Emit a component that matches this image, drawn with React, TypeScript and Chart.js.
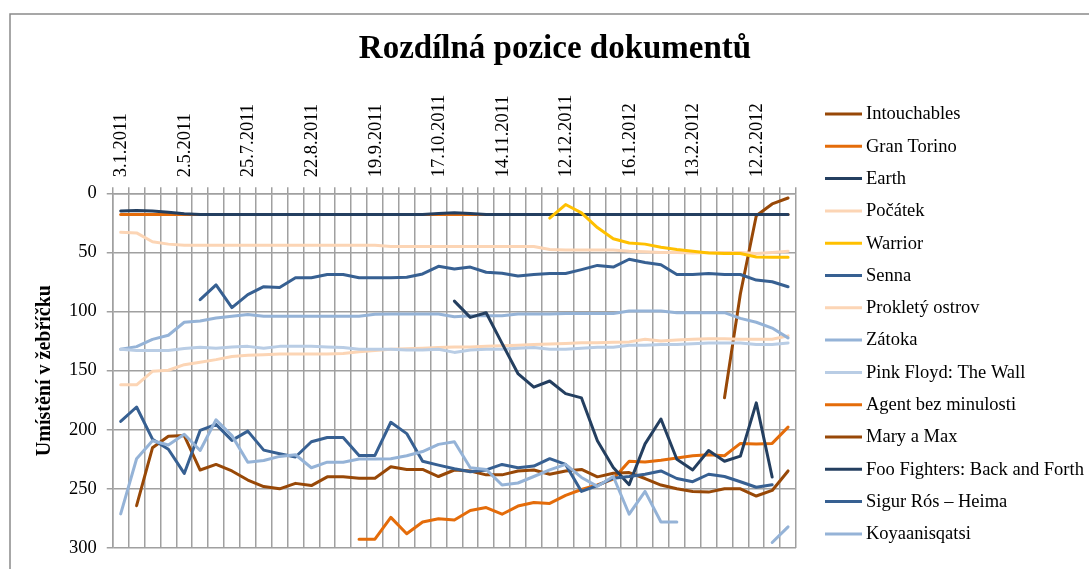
import React, { useEffect, useRef } from 'react';
import { Chart, registerables } from 'chart.js';

Chart.register(...registerables);

const N = null;

const categories: string[] = [
  'w1', 'w2', 'w3', 'w4', 'w5', 'w6', 'w7', 'w8', 'w9', 'w10',
  'w11', 'w12', 'w13', 'w14', 'w15', 'w16', 'w17', 'w18', 'w19', 'w20',
  'w21', 'w22', 'w23', 'w24', 'w25', 'w26', 'w27', 'w28', 'w29', 'w30',
  'w31', 'w32', 'w33', 'w34', 'w35', 'w36', 'w37', 'w38', 'w39', 'w40',
  'w41', 'w42', 'w43',
];

const tickLabels: string[] = [
  '3.1.2011', '2.5.2011', '25.7.2011', '22.8.2011', '19.9.2011', '17.10.2011',
  '14.11.2011', '12.12.2011', '16.1.2012', '13.2.2012', '12.2.2012',
];

const yTicks = [0, 50, 100, 150, 200, 250, 300];

const intouchables = [
  N, N, N, N, N, N, N, N, N, N, N, N, N, N, N, N, N, N, N, N,
  N, N, N, N, N, N, N, N, N, N, N, N, N, N, N, N, N, N, 173, 85,
  19, 9, 4,
];
const granTorino = [
  18, 18, 18, 18, 18, 18, 18, 18, 18, 18, 18, 18, 18, 18, 18, 18, 18, 18, 18, 18,
  18, 18, 18, 18, 18, 18, 18, 18, 18, 18, 18, 18, 18, 18, 18, 18, 18, 18, 18, 18,
  18, 18, 18,
];
const earth = [
  15, 14.5, 15, 16, 17.3, 18, 18, 18, 18, 18, 18, 18, 18, 18, 18, 18, 18, 18, 18, 18,
  17, 16.5, 17, 18, 18, 18, 18, 18, 18, 18, 18, 18, 18, 18, 18, 18, 18, 18, 18, 18,
  18, 18, 18,
];
const pocatek = [
  33, 33.5, 41, 43, 44, 44, 44, 44, 44, 44, 44, 44, 44, 44, 44, 44, 44, 45, 45, 45,
  45, 45, 45, 45, 45, 45, 45, 47.5, 48, 48, 48, 48, 49, 49.5, 50, 50, 50.5, 50, 50, 50,
  51, 50, 49,
];
const warrior = [
  N, N, N, N, N, N, N, N, N, N, N, N, N, N, N, N, N, N, N, N,
  N, N, N, N, N, N, N, 21, 9.5, 16.5, 29, 38.5, 42, 43, 45.6, 47.6, 49, 50.5, 51, 51,
  53.9, 54, 54,
];
const senna = [
  N, N, N, N, N, 90, 77.5, 96.7, 85.7, 79, 79.7, 71.5, 71.5, 68.7, 68.7, 71.5, 71.5, 71.5, 71, 68.2,
  61.8, 64, 62.4, 66.8, 67.6, 70, 68.7, 67.9, 67.9, 64.6, 61, 62.4, 55.8, 58.5, 60.5, 68.7, 68.7, 67.9, 68.7, 68.7,
  73.4, 74.8, 79.1,
];
const prokletyOstrov = [
  162, 162, 150.6, 149.7, 145, 142.9, 140.7, 138, 137, 136.5, 136, 136, 136, 136, 135.5, 134, 133, 132, 131.5, 131,
  130.5, 130, 130, 129.5, 129, 128.5, 128, 127.5, 127, 126.5, 126.5, 126, 125.7, 123.5, 125, 124.2, 123.4, 123, 123, 123.4,
  123.4, 123.4, 120.6,
];
const zatoka = [
  132, 129.7, 123.6, 120.1, 109.1, 108, 105.5, 104, 102.5, 104, 104, 104, 104, 104, 104, 104, 102.4, 102.2, 102.2, 102.2,
  102.2, 104.4, 103.6, 103.6, 103.6, 102.2, 102.2, 102.2, 101.7, 101.7, 101.7, 101.7, 99.5, 99.5, 99.5, 101, 101, 101, 101, 105.8,
  109.1, 114, 122.3,
];
const pinkFloyd = [
  132, 133, 133, 133, 131.3, 130.3, 131, 130, 129.5, 131, 129.5, 129.5, 129.5, 130, 130.5, 132, 132, 132, 132.6, 132.6,
  132, 134.6, 132.6, 132, 132, 131, 130.5, 132, 132, 131, 130.3, 130.3, 128.6, 128.6, 128, 128, 127.3, 126.6, 126.6, 126.6,
  128, 128, 126.6,
];
const agentBezMinulosti = [
  N, N, N, N, N, N, N, N, N, N, N, N, N, N, N, 292.6, 292.6, 274.2, 288, 278.1,
  275.3, 276.4, 268.4, 265.9, 271.5, 264.6, 261.6, 262.4, 255.5, 250.6, 246.8, 241.8, 226.7, 227.3, 225.9, 224, 222, 221.2, 222, 211.6,
  212.1, 211.6, 197.8,
];
const maryAMax = [
  N, 264.3, 215.3, 205.5, 205, 234.1, 229.4, 234.9, 242.6, 248.1, 250, 245.4, 247.3, 239.9, 239.9, 241, 241, 231.4, 233.6, 233.6,
  239.6, 234.1, 234.9, 238.2, 238.2, 234.9, 234.1, 237.7, 234.9, 233.6, 239.9, 236.9, 236.3, 241.3, 246.8, 250, 252.2, 252.8, 250, 250,
  256.1, 251.4, 234.9,
];
const fooFighters = [
  N, N, N, N, N, N, N, N, N, N, N, N, N, N, N, N, N, N, N, N,
  N, 91.2, 105, 101.1, 127, 152.5, 164, 158.8, 169.5, 173.1, 209.4, 232, 246.5, 212, 191, 225, 234, 217.6, 226.7, 222.4,
  177.3, 240, N,
];
const sigurRos = [
  193, 180.8, 208, 216.5, 237, 200.6, 195.5, 209, 201.2, 217.3, 220.3, 223.1, 210.2, 206.6, 206.6, 221.8, 221.8, 193.7, 203.3, 226.7,
  230, 233, 235.5, 234, 229.4, 232.2, 230.8, 224.5, 229.4, 252.2, 247.3, 241, 239.6, 237.7, 234.9, 241.3, 244, 237.7, 239.6, 244,
  248.7, 246.6, N,
];
const koyaanisqatsi = [
  271.2, 224.6, 209.4, 213, 203.9, 217.6, 191.6, 205, 227.5, 226.1, 222.6, 221.2, 232.2, 227.5, 227.5, 224.8, 224.8, 224.6, 222, 218.5,
  212.4, 210.2, 232.2, 233.6, 246.8, 245.1, 239.6, 234, 229.4, 240.4, 247.9, 239.6, 271.5, 252.2, 278.1, 278.1, N, N, N, N,
  N, 295.4, 282.2,
];

const seriesNames = [
  'Intouchables', 'Gran Torino', 'Earth', 'Počátek', 'Warrior', 'Senna', 'Prokletý ostrov',
  'Zátoka', 'Pink Floyd: The Wall', 'Agent bez minulosti', 'Mary a Max',
  'Foo Fighters: Back and Forth', 'Sigur Rós – Heima', 'Koyaanisqatsi',
];
const seriesData = [
  intouchables, granTorino, earth, pocatek, warrior, senna, prokletyOstrov,
  zatoka, pinkFloyd, agentBezMinulosti, maryAMax, fooFighters, sigurRos, koyaanisqatsi,
];
const seriesColors = [
  '#984807', '#E46C0A', '#243F60', '#FCD5B5', '#FFC000', '#376092', '#FCD5B5',
  '#95B3D7', '#B9CDE5', '#E46C0A', '#984807', '#243F60', '#376092', '#95B3D7',
];

const FONT = '"Liberation Serif", "Times New Roman", serif';
const GRID = '#a0a0a0';

const framePlugin = {
  id: 'frameAndLegend',
  beforeDraw(chart: any) {
    const ctx = chart.ctx;
    ctx.save();
    ctx.fillStyle = '#ffffff';
    ctx.fillRect(0, 0, chart.width, chart.height);
    ctx.strokeStyle = '#8a8a8a';
    ctx.lineWidth = 1.5;
    ctx.beginPath();
    ctx.moveTo(10, chart.height);
    ctx.lineTo(10, 14);
    ctx.lineTo(chart.width, 14);
    ctx.stroke();
    ctx.restore();
  },
  afterDraw(chart: any) {
    const ctx = chart.ctx;
    ctx.save();
    ctx.font = `18.5px ${FONT}`;
    ctx.textBaseline = 'middle';
    ctx.textAlign = 'left';
    chart.data.datasets.forEach((ds: any, i: number) => {
      const y = 114 + i * 32.3;
      ctx.strokeStyle = ds.borderColor;
      ctx.lineWidth = 3;
      ctx.beginPath();
      ctx.moveTo(825, y);
      ctx.lineTo(862, y);
      ctx.stroke();
      ctx.fillStyle = '#000';
      ctx.fillText(ds.label, 866, y + 0.5);
    });
    ctx.restore();
  },
};

export default function App() {
  const ref = useRef<HTMLCanvasElement | null>(null);

  useEffect(() => {
    if (!ref.current) return;
    Chart.defaults.font.family = FONT;
    Chart.defaults.color = '#000';
    const chart = new Chart(ref.current, {
      type: 'line',
      data: {
        labels: categories,
        datasets: seriesNames.map((name, i) => ({
          label: name,
          data: seriesData[i],
          borderColor: seriesColors[i],
          backgroundColor: seriesColors[i],
          borderWidth: 3,
          pointRadius: 0,
          pointHoverRadius: 0,
          tension: 0,
          fill: false,
          spanGaps: false,
          borderJoinStyle: 'round' as const,
          borderCapStyle: 'round' as const,
          order: -i,
        })),
      },
      options: {
        responsive: false,
        animation: false,
        devicePixelRatio: 1,
        layout: { padding: { left: 21, right: 0, top: 0, bottom: 12.1 } },
        plugins: {
          legend: { display: false },
          tooltip: { enabled: false },
          title: {
            display: true,
            text: 'Rozdílná pozice dokumentů',
            color: '#000',
            font: { family: FONT, size: 33, weight: 'bold' },
            padding: { top: 29.5, bottom: 0 },
          },
        },
        scales: {
          x: {
            type: 'category',
            position: 'top',
            offset: true,
            grid: { offset: true, color: GRID, lineWidth: 1.5, tickLength: 6 },
            border: { color: GRID, width: 1.5 },
            ticks: {
              autoSkip: false,
              maxRotation: 90,
              minRotation: 90,
              padding: 10,
              labelOffset: 23,
              color: '#000',
              font: { family: FONT, size: 18.5 },
              callback: (_v: any, idx: number) => (idx % 4 === 0 ? tickLabels[idx / 4] : ''),
            },
            afterFit: (s: any) => { s.height = 193.3 - (29.5 + 33 * 1.2); },
          },
          y: {
            type: 'linear',
            min: yTicks[0],
            max: yTicks[yTicks.length - 1],
            reverse: true,
            grid: { color: GRID, lineWidth: 1.5, tickLength: 6 },
            border: { color: GRID, width: 1.5 },
            ticks: {
              stepSize: 50,
              padding: 10,
              color: '#000',
              font: { family: FONT, size: 18.5 },
            },
            title: {
              display: true,
              text: 'Umístění v žebříčku',
              color: '#000',
              font: { family: FONT, size: 20, weight: 'bold' },
              padding: { top: 12, bottom: 0 },
            },
            afterFit: (s: any) => { s.width = 91.75; },
          },
          yR: {
            type: 'linear',
            position: 'right',
            display: true,
            grid: { display: false },
            border: { display: false },
            ticks: { display: false },
            afterFit: (s: any) => { s.width = 293; },
          },
        },
      },
      plugins: [framePlugin],
    } as any);
    return () => chart.destroy();
  }, []);

  return (
    <div style={{ position: 'absolute', left: 0, top: 0, width: 1089, height: 569 }}>
      <canvas ref={ref} width={1089} height={569} style={{ width: 1089, height: 569, display: 'block' }} />
    </div>
  );
}
